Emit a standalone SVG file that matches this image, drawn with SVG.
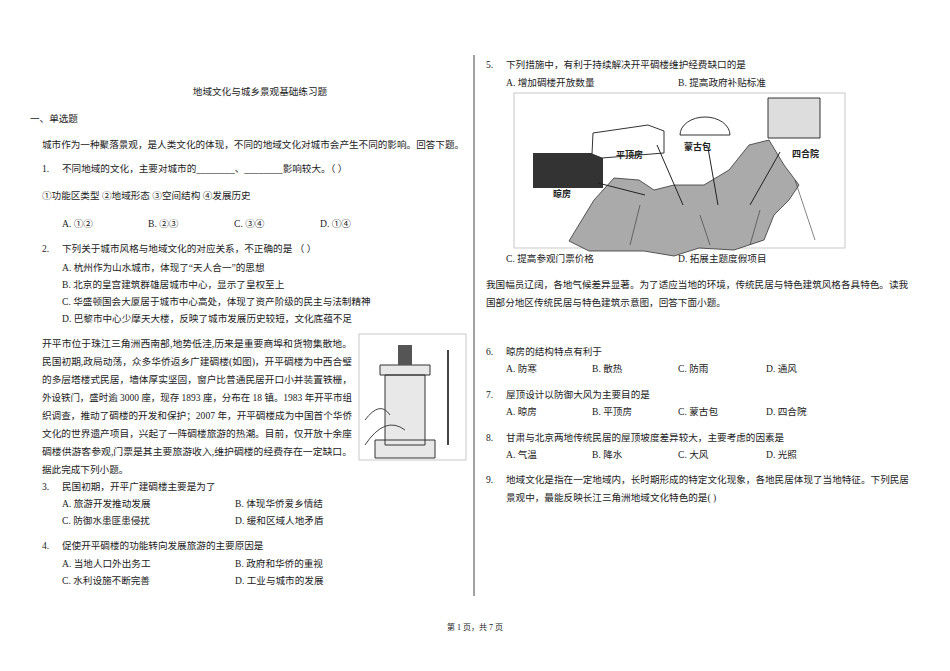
<svg xmlns="http://www.w3.org/2000/svg" width="950" height="671" viewBox="0 0 950 671">
<style>
text{font-family:"Liberation Serif","Noto Sans CJK SC",serif;font-size:9.6px;fill:#222}
.b{font-family:"Noto Sans CJK SC",sans-serif;font-weight:bold;font-size:9px}
</style>
<rect width="950" height="671" fill="#fff"/>
<line x1="474" y1="55" x2="474" y2="596" stroke="#444" stroke-width="1"/>
<text x="260" y="95" text-anchor="middle">地域文化与城乡景观基础练习题</text>
<text x="30" y="122">一、单选题</text>
<text x="42" y="148">城市作为一种聚落景观，是人类文化的体现，不同的地域文化对城市会产生不同的影响。回答下题。</text>
<text x="42" y="172">1.</text><text x="62" y="172">不同地域的文化，主要对城市的________、________影响较大。（  ）</text>
<text x="42" y="199">①功能区类型   ②地域形态   ③空间结构   ④发展历史</text>
<text x="62" y="227">A. ①②</text><text x="148" y="227">B. ②③</text><text x="234" y="227">C. ③④</text><text x="320" y="227">D. ①④</text>
<text x="42" y="252">2.</text><text x="62" y="252">下列关于城市风格与地域文化的对应关系，不正确的是 （  ）</text>
<text x="62" y="271">A. 杭州作为山水城市，体现了“天人合一”的思想</text>
<text x="62" y="288">B. 北京的皇宫建筑群雄居城市中心，显示了皇权至上</text>
<text x="62" y="305">C. 华盛顿国会大厦居于城市中心高处，体现了资产阶级的民主与法制精神</text>
<text x="62" y="322">D. 巴黎市中心少摩天大楼，反映了城市发展历史较短，文化底蕴不足</text>
<g id="tower">
<rect x="359" y="334" width="107" height="126" fill="#fff" stroke="#bbb" stroke-width="0.8"/>
<path d="M380 365h50v10h-50z M385 375h40v70h-40z M375 440h60v18h-60z" fill="#e8e8e8" stroke="#333"/>
<path d="M398 345h14v20h-14z" fill="#555"/>
<line x1="448" y1="350" x2="448" y2="445" stroke="#444" stroke-width="2"/>
<path d="M365 420q15-20 25-5 M365 445q20-30 40-15" fill="none" stroke="#444"/>
</g>
<text x="42" y="347" textLength="310" lengthAdjust="spacingAndGlyphs">开平市位于珠江三角洲西南部,地势低洼,历来是重要商埠和货物集散地。</text>
<text x="42" y="365" textLength="310" lengthAdjust="spacingAndGlyphs">民国初期,政局动荡，众多华侨返乡广建碉楼(如图)，开平碉楼为中西合璧</text>
<text x="42" y="383" textLength="310" lengthAdjust="spacingAndGlyphs">的多层塔楼式民居，墙体厚实坚固，窗户比普通民居开口小并装置铁栅，</text>
<text x="42" y="401" textLength="310" lengthAdjust="spacingAndGlyphs">外设铁门，盛时逾 3000 座，现存 1893 座，分布在 18 镇。1983 年开平市组</text>
<text x="42" y="419" textLength="310" lengthAdjust="spacingAndGlyphs">织调查，推动了碉楼的开发和保护；2007 年，开平碉楼成为中国首个华侨</text>
<text x="42" y="437" textLength="310" lengthAdjust="spacingAndGlyphs">文化的世界遗产项目，兴起了一阵碉楼旅游的热潮。目前，仅开放十余座</text>
<text x="42" y="455" textLength="310" lengthAdjust="spacingAndGlyphs">碉楼供游客参观,门票是其主要旅游收入,维护碉楼的经费存在一定缺口。</text>
<text x="42" y="473">据此完成下列小题。</text>
<text x="42" y="490">3.</text><text x="62" y="490">民国初期，开平广建碉楼主要是为了</text>
<text x="62" y="507">A. 旅游开发推动发展</text><text x="235" y="507">B. 体现华侨爱乡情结</text>
<text x="62" y="524">C. 防御水患匪患侵扰</text><text x="235" y="524">D. 缓和区域人地矛盾</text>
<text x="42" y="549">4.</text><text x="62" y="549">促使开平碉楼的功能转向发展旅游的主要原因是</text>
<text x="62" y="567">A. 当地人口外出务工</text><text x="235" y="567">B. 政府和华侨的重视</text>
<text x="62" y="584">C. 水利设施不断完善</text><text x="235" y="584">D. 工业与城市的发展</text>

<text x="486" y="68">5.</text><text x="506" y="68">下列措施中，有利于持续解决开平碉楼维护经费缺口的是</text>
<text x="506" y="86">A. 增加碉楼开放数量</text><text x="678" y="86">B. 提高政府补贴标准</text>
<g id="map">
<rect x="514" y="93" width="331" height="155" fill="#fff" stroke="#bbb" stroke-width="0.8"/>
<path d="M594 200l20-22 25 2 15 10 20-5 30 0 25-15 20-25 20-5 15 25 15 20-10 15-15 15-10 25-30 10-35-2-25 8-30-5-30 0-25 0-20-10z" fill="#aaa" stroke="#333" stroke-width="0.8"/>
<path d="M640 205l-10 40 M700 215l10 30 M760 210l-10 35 M795 180l20 60" stroke="#333" fill="none" stroke-width="0.6"/>
<rect x="533" y="153" width="70" height="35" fill="#333"/>
<path d="M593 133l55-8 16 6v22l-62 5-10-4z" fill="#fff" stroke="#333"/>
<path d="M680 135a25 18 0 0 1 50 0z" fill="#fff" stroke="#333"/>
<path d="M768 98h52v40h-52z" fill="#ddd" stroke="#333"/>
<line x1="598" y1="183" x2="645" y2="195" stroke="#222"/>
<line x1="657" y1="145" x2="683" y2="205" stroke="#222"/>
<line x1="708" y1="148" x2="718" y2="205" stroke="#222"/>
<line x1="780" y1="152" x2="750" y2="205" stroke="#222"/>
<text class="b" x="616" y="158">平顶房</text>
<text class="b" x="684" y="150">蒙古包</text>
<text class="b" x="792" y="157">四合院</text>
<text class="b" x="553" y="197">晾房</text>
</g>
<text x="506" y="262">C. 提高参观门票价格</text><text x="678" y="262">D. 拓展主题度假项目</text>
<text x="486" y="288">我国幅员辽阔，各地气候差异显著。为了适应当地的环境，传统民居与特色建筑风格各具特色。读我</text>
<text x="486" y="306">国部分地区传统民居与特色建筑示意图，回答下面小题。</text>
<text x="486" y="355">6.</text><text x="506" y="355">晾房的结构特点有利于</text>
<text x="506" y="372">A. 防寒</text><text x="592" y="372">B. 散热</text><text x="678" y="372">C. 防雨</text><text x="766" y="372">D. 通风</text>
<text x="486" y="398">7.</text><text x="506" y="398">屋顶设计以防御大风为主要目的是</text>
<text x="506" y="415">A. 晾房</text><text x="592" y="415">B. 平顶房</text><text x="678" y="415">C. 蒙古包</text><text x="766" y="415">D. 四合院</text>
<text x="486" y="441">8.</text><text x="506" y="441">甘肃与北京两地传统民居的屋顶坡度差异较大，主要考虑的因素是</text>
<text x="506" y="458">A. 气温</text><text x="592" y="458">B. 降水</text><text x="678" y="458">C. 大风</text><text x="766" y="458">D. 光照</text>
<text x="486" y="483">9.</text><text x="506" y="483">地域文化是指在一定地域内，长时期形成的特定文化现象，各地民居体现了当地特征。下列民居</text>
<text x="506" y="501">景观中，最能反映长江三角洲地域文化特色的是( )</text>
<text x="475" y="630" text-anchor="middle" style="font-size:8px">第 1 页，共 7 页</text>
</svg>
